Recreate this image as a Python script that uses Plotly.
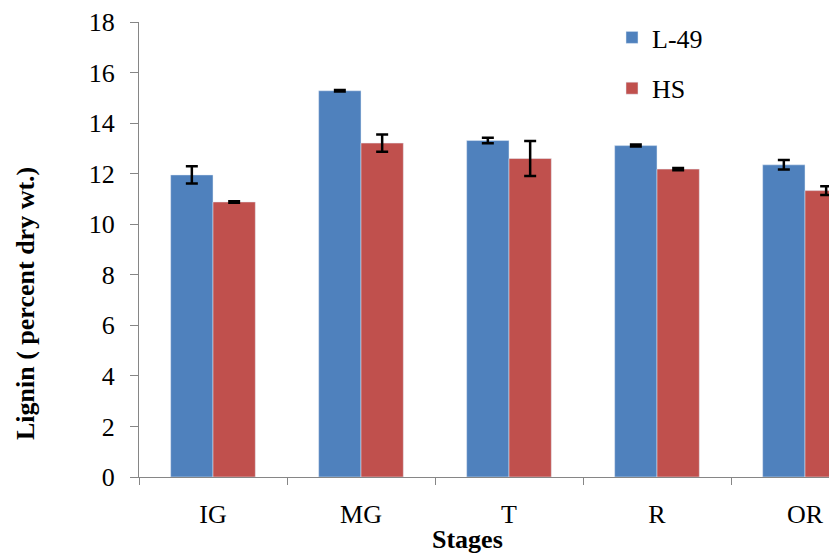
import plotly.graph_objects as go

categories = ["IG", "MG", "T", "R", "OR"]
l49_values = [11.95, 15.28, 13.31, 13.11, 12.35]
l49_errors = [0.34, 0.03, 0.11, 0.04, 0.19]
hs_values = [10.88, 13.21, 12.60, 12.18, 11.33]
hs_errors = [0.03, 0.34, 0.69, 0.04, 0.17]
y_ticks = [0, 2, 4, 6, 8, 10, 12, 14, 16, 18]

FONT = "Liberation Serif"
FS = 26
W, H = 829, 556
L, R, T, B = 139, 0, 22, 79
PW, PH = W - L - R, H - T - B

fig = go.Figure()
err_style = dict(type="data", visible=True, color="black", thickness=2.5, width=6)
fig.add_trace(go.Bar(
    name="L-49", x=categories, y=l49_values, legendgroup="a",
    marker=dict(color="#4F81BD"),
    error_y=dict(array=l49_errors, **err_style),
))
fig.add_trace(go.Bar(
    name="HS", x=categories, y=hs_values, legendgroup="b",
    marker=dict(color="#C0504D"),
    error_y=dict(array=hs_errors, **err_style),
))

cat_px = 148.0
fig.update_layout(
    width=W, height=H,
    margin=dict(l=L, r=R, t=T, b=B, pad=0, autoexpand=False),
    paper_bgcolor="white", plot_bgcolor="white",
    barmode="group", bargap=0.428, bargroupgap=0,
    font=dict(family=FONT, size=FS, color="black"),
    showlegend=True,
    legend=dict(
        xref="paper", yref="paper",
        x=(612 - L) / PW, y=(477 - 14) / PH, xanchor="left", yanchor="top",
        font=dict(family=FONT, size=FS, color="black"),
        bgcolor="rgba(0,0,0,0)", tracegroupgap=14, itemwidth=30,
        traceorder="grouped",
    ),
    xaxis=dict(
        type="category", range=[-0.5, -0.5 + PW / cat_px],
        showline=True, linecolor="#868686", linewidth=1,
        ticks="outside", tickson="boundaries", ticklen=7, tickcolor="#868686",
        tickfont=dict(family=FONT, size=FS, color="black"),
        ticklabelstandoff=14,
        showgrid=False, zeroline=False, fixedrange=True,
    ),
    yaxis=dict(
        range=[0, 18], tickvals=y_ticks,
        showline=True, linecolor="#868686", linewidth=1,
        ticks="outside", ticklen=8, tickcolor="#868686",
        tickfont=dict(family=FONT, size=FS, color="black"),
        ticklabelstandoff=10,
        showgrid=False, zeroline=False, fixedrange=True,
    ),
    annotations=[
        dict(text="<b>Stages</b>", xref="paper", yref="paper",
             x=(467 - L) / PW, y=(477 - 523) / PH, xanchor="center", yanchor="top",
             showarrow=False, font=dict(family=FONT, size=FS, color="black")),
        dict(text="<b>Lignin ( percent dry wt.)</b>", xref="paper", yref="paper",
             x=(25 - L) / PW, y=(477 - 304) / PH, xanchor="center", yanchor="middle",
             textangle=-90, showarrow=False,
             font=dict(family=FONT, size=FS, color="black")),
    ],
)

fig.write_html(
    "out.html",
    config={"displayModeBar": False},
    post_script="document.body.style.margin='0';document.body.style.overflow='hidden';",
)
